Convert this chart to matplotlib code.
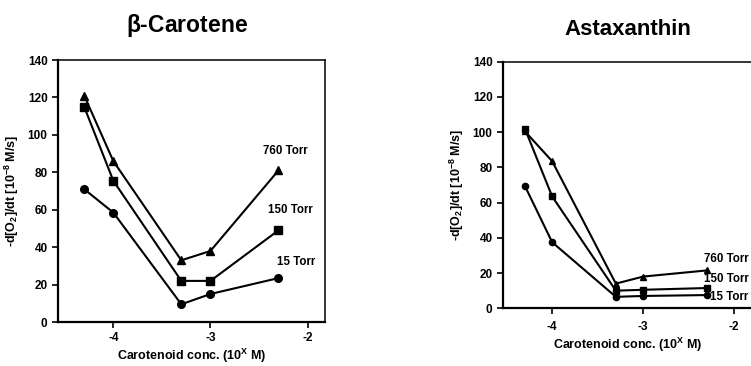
import matplotlib.pyplot as plt

plt.rcParams['font.family'] = ['Liberation Sans', 'DejaVu Sans']
plt.rcParams['font.weight'] = 'bold'
plt.rcParams['mathtext.default'] = 'regular'

conc = [-4.3, -4.0, -3.3, -3.0, -2.3]

# beta-carotene
bc_760 = [121, 86, 33, 38, 81]
bc_150 = [115, 75.5, 22, 22, 49]
bc_15 = [71, 58.5, 9.5, 15, 23.5]

# astaxanthin
ax_760 = [100.5, 83.5, 14, 18, 21.5]
ax_150 = [102, 63.5, 10, 10.5, 11.5]
ax_15 = [69.5, 37.5, 6.5, 7, 7.5]

pressure_labels = ['760 Torr', '150 Torr', '15 Torr']
markers = ['^', 's', 'o']

YLABEL = r'-d[O$_2$]/dt [10$^{-8}$ M/s]'
XLABEL = r'Carotenoid conc. (10$^{X}$ M)'


def style_axes(ax, xlim, xpad, labelpad):
    ax.set_xlim(*xlim)
    ax.set_ylim(0, 140)
    ax.set_xticks([-4, -3, -2])
    ax.set_xticklabels(['-4', '-3', '-2'])
    ax.set_yticks(range(0, 141, 20))
    ax.tick_params(direction='out', length=4, width=1.2, labelsize=8.5,
                   top=False, right=False)
    ax.tick_params(axis='x', pad=xpad)
    for s in ['left', 'bottom']:
        ax.spines[s].set_linewidth(1.6)
    for s in ['top', 'right']:
        ax.spines[s].set_linewidth(1.1)
    ax.set_ylabel(YLABEL, fontsize=9, fontweight='bold', labelpad=5)
    ax.set_xlabel(XLABEL, fontsize=9, fontweight='bold', labelpad=labelpad)


fig = plt.figure(figsize=(7.51, 3.66), dpi=100)

ax1 = fig.add_axes([0.0772, 0.120, 0.3556, 0.716])
for vals, m in zip([bc_760, bc_150, bc_15], markers):
    ax1.plot(conc, vals, color='black', lw=1.5, marker=m, ms=5.5)
style_axes(ax1, (-4.57, -1.82), 3, 2.5)
ax1.text(-2.23, 91.5, pressure_labels[0], fontsize=8.3, ha='center', va='center')
ax1.text(-2.18, 60, pressure_labels[1], fontsize=8.3, ha='center', va='center')
ax1.text(-2.12, 32, pressure_labels[2], fontsize=8.3, ha='center', va='center')
fig.text(0.249, 0.93, r'$\beta$-Carotene', fontsize=16.5, fontweight='bold',
         ha='center', va='center')

ax2 = fig.add_axes([0.6698, 0.1577, 0.332, 0.6737])
for vals, m in zip([ax_760, ax_150, ax_15], markers):
    ax2.plot(conc, vals, color='black', lw=1.5, marker=m, ms=4.5)
style_axes(ax2, (-4.54, -1.80), 5.5, 2)
ax2.text(-2.33, 28, pressure_labels[0], fontsize=8.3, ha='left', va='center')
ax2.text(-2.33, 16.8, pressure_labels[1], fontsize=8.3, ha='left', va='center')
ax2.text(-2.26, 6.6, pressure_labels[2], fontsize=8.3, ha='left', va='center')
fig.text(0.836, 0.92, 'Astaxanthin', fontsize=16, fontweight='bold',
         ha='center', va='center')

fig.savefig('out.png', dpi=100)
